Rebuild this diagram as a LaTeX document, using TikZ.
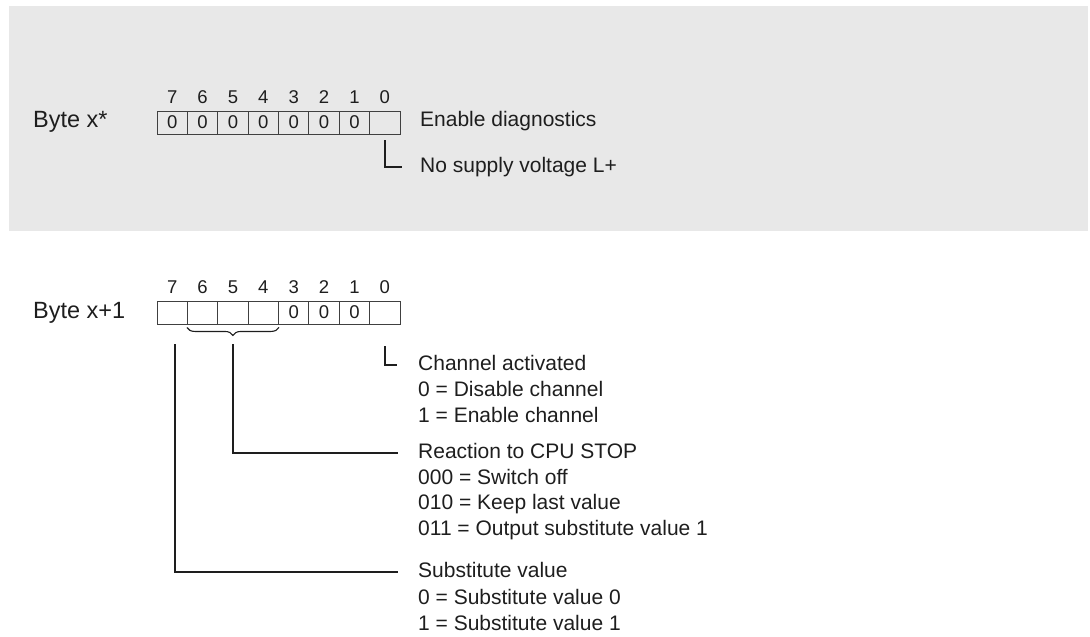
\documentclass[tikz,border=0pt]{standalone}
\usepackage{fontspec}
\setmainfont{Liberation Sans}
\usetikzlibrary{decorations.pathreplacing}
\definecolor{panelgray}{HTML}{E8E8E8}
\definecolor{inkgray}{HTML}{1E1E1E}
\begin{document}
\begin{tikzpicture}[x=1pt,y=-1pt,
        cell/.style={draw=black!75,line width=0.9pt,minimum width=30.4pt,
            minimum height=23pt,inner sep=0pt,text=inkgray,
            font=\fontsize{18.5}{20}\selectfont},
        bitnum/.style={anchor=base,inner sep=0pt,text=inkgray,
            font=\fontsize{18.5}{20}\selectfont},
        bytelbl/.style={anchor=west,inner sep=0pt,text=inkgray,
            font=\fontsize{23.5}{26}\selectfont},
        txt/.style={anchor=west,inner sep=0pt,text=inkgray,text height=15pt,
            text depth=4pt,font=\fontsize{21}{25}\selectfont},
        conn/.style={draw=inkgray,line width=1.8pt},
        bracket/.style={draw=inkgray,line width=1.1pt,
            decorate,decoration={brace,mirror,amplitude=8pt}}]
    \useasboundingbox (0,0) rectangle (1090,637);
    % grey panel round byte x*
    \fill[panelgray] (9,6) rectangle (1088,231);

    % byte x*
    \node[bytelbl] (bytex) at (33,122) {Byte x*};
    \foreach \i/\v in {7/0,6/0,5/0,4/0,3/0,2/0,1/0,0/{}} {
        \node[cell] (top\i) at ({157+(7.5-\i)*30.375},122.5) {\v};
        \node[bitnum] (topn\i) at ([yshift=7.5pt]top\i.north) {\i};
    }
    \node[txt] (enable) at (420,121) {Enable diagnostics};
    \node[txt] (nosup) at (420,167) {No supply voltage L+};
    \draw[conn] ([yshift=-6pt]top0.south) |- ([xshift=-18pt]nosup.west);

    % byte x+1
    \node[bytelbl] (bytey) at (33,313) {Byte x+1};
    \foreach \i/\v in {7/{},6/{},5/{},4/{},3/0,2/0,1/0,0/{}} {
        \node[cell] (bot\i) at ({157+(7.5-\i)*30.375},312.5) {\v};
        \node[bitnum] (botn\i) at ([yshift=7.5pt]bot\i.north) {\i};
    }
    \draw[bracket] ([yshift=-3pt]bot6.south west) -- ([yshift=-3pt]bot4.south east);

    \node[txt] (chanA) at (418,365) {Channel activated};
    \node[txt] (chanB) at (418,391) {0 = Disable channel};
    \node[txt] (chanC) at (418,416.5) {1 = Enable channel};

    \node[txt] (reactA) at (418,453) {Reaction to CPU STOP};
    \node[txt] (reactB) at (418,478.5) {000 = Switch off};
    \node[txt] (reactC) at (418,504) {010 = Keep last value};
    \node[txt] (reactD) at (418,529.5) {011 = Output substitute value 1};

    \node[txt] (substA) at (418,572) {Substitute value};
    \node[txt] (substB) at (418,599) {0 = Substitute value 0};
    \node[txt] (substC) at (418,625) {1 = Substitute value 1};

    \draw[conn] ([yshift=-22pt]bot0.south) |- ([xshift=-21pt]chanA.west);
    \draw[conn] ([yshift=-20pt]bot5.south) |- ([xshift=-20pt]reactA.west);
    \draw[conn] ([xshift=3pt,yshift=-20pt]bot7.south) |- ([xshift=-20pt]substA.west);
\end{tikzpicture}
\end{document}
